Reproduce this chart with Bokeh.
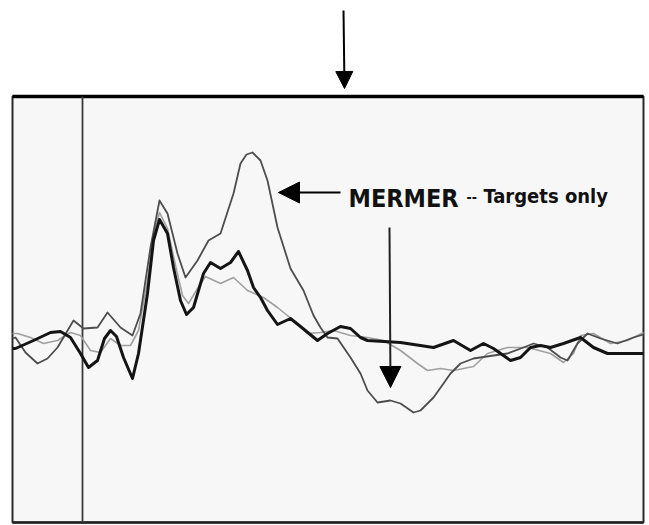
from bokeh.plotting import figure
from bokeh.models import Range1d, Arrow, NormalHead
from bokeh.core.properties import value
from bokeh.embed import file_html
from bokeh.resources import INLINE

# Time (ms, stimulus at 0) and amplitude (uV, positive up)
black_t = [-280, -268, -196, -128, -88, -48, -8, 24, 60, 88, 112, 136, 164, 200, 224, 260, 284, 308,
           340, 364, 392, 416, 444, 484, 512, 552, 592, 624, 660, 684, 712, 740, 780, 832, 872, 940,
           980, 1032, 1072, 1112, 1140, 1272, 1404, 1484, 1552, 1604, 1644, 1712, 1752, 1792, 1832,
           1872, 1924, 1992, 2044, 2100, 2180, 2244]
black_v = [-0.3, -0.3, 0.5, 1.3, 1.4, 0.8, -0.8, -2.2, -1.5, 0.7, 1.5, 0.9, -1.2, -3.3, -0.8, 5.2, 10.5, 12.6,
           11.2, 7.8, 4.5, 3.1, 3.8, 7.2, 8.3, 7.7, 8.3, 9.4, 7.5, 5.8, 4.8, 3.5, 2.1, 2.7, 1.9, 0.5,
           1.2, 1.9, 1.7, 0.8, 0.5, 0.3, -0.2, 0.5, -0.5, 0.2, -0.3, -1.5, -1.2, -0.2, 0.0,
           -0.2, 0.2, 0.8, -0.2, -0.8, -0.8, -0.8]

mermer_t = [-280, -268, -228, -180, -140, -100, -36, 4, 60, 100, 152, 200, 232, 272, 308, 340, 380, 412,
            460, 504, 552, 604, 632, 656, 680, 712, 740, 780, 832, 884, 924, 952, 980, 1020, 1072, 1112,
            1140, 1180, 1232, 1272, 1324, 1352, 1404, 1444, 1472, 1512, 1564, 1644, 1700, 1764, 1804,
            1860, 1912, 1940, 1980, 2020, 2072, 2140, 2204, 2244]
mermer_v = [0.7, 0.8, -0.7, -1.8, -1.3, -0.2, 2.5, 1.7, 1.8, 3.3, 1.8, 1.0, 3.2, 9.8, 14.5, 13.2, 9.2, 6.8,
            8.5, 10.5, 11.2, 15.2, 18.2, 19.1, 19.3, 18.5, 16.5, 11.8, 7.7, 5.5, 3.0, 1.8, 0.8, 0.7, -1.2, -2.8,
            -4.5, -5.7, -5.5, -5.8, -6.7, -6.5, -5.2, -3.8, -2.8, -1.8, -1.3, -1.0, -0.8, -0.2, 0.2,
            -0.2, -1.2, -1.5, 0.2, 1.2, 0.7, 0.2, 0.8, 1.1]

light_t = [-280, -260, -208, -156, -100, -48, -8, 32, 72, 112, 152, 192, 224, 260, 284, 308, 340, 372,
           400, 424, 460, 492, 552, 604, 660, 724, 780, 844, 900, 952, 1004, 1072, 1140, 1204, 1272,
           1340, 1380, 1432, 1484, 1564, 1620, 1700, 1780, 1872, 1924, 1964, 1992, 2044, 2112, 2180, 2244]
light_v = [1.2, 1.2, 0.8, 0.2, 0.5, 1.3, 1.0, -0.5, -0.7, 0.7, 0.0, 0.0, 1.5, 6.5, 11.0, 13.3, 11.7, 8.0,
           5.0, 4.2, 5.7, 6.9, 6.2, 6.8, 5.5, 4.8, 3.8, 2.5, 1.2, 1.3, 1.5, 1.0, 0.8, 0.5, -0.5,
           -1.8, -2.5, -2.3, -2.5, -2.1, -0.8, -0.2, -0.2, -0.8, -1.7, -0.8, 1.0, 1.2, 0.2, 0.5, 1.3]

box_t = [-280, 2244]
box_v = [-17.7, 24.9]
onset_t = 0

label_main = "MERMER"
label_dash = "--"
label_sub = "Targets only"

p = figure(width=649, height=525, output_backend="svg", toolbar_location=None,
           x_range=Range1d(-328, 2268), y_range=Range1d(-18.0, 34.5),
           min_border=0, background_fill_color="white", border_fill_color="white")
p.xaxis.visible = False
p.yaxis.visible = False
p.grid.visible = False
p.outline_line_color = None

# panel background and box
p.quad(left=box_t[0], right=box_t[1], bottom=box_v[0], top=box_v[1],
       fill_color="#f7f7f7", line_color="#2a2a2a", line_width=2)
p.line(x=box_t, y=[box_v[1], box_v[1]], line_color="black", line_width=3.5)
p.line(x=box_t, y=[box_v[0], box_v[0]], line_color="#222", line_width=2.5)
p.line(x=[onset_t, onset_t], y=box_v, line_color="#3a3a3a", line_width=1.8)

# traces
p.line(light_t, light_v, line_color="#a0a0a0", line_width=1.6, line_join="round")
p.line(mermer_t, mermer_v, line_color="#4d4d4d", line_width=1.8, line_join="round")
p.line(black_t, black_v, line_color="#141414", line_width=3.0, line_join="round")

# arrows
p.add_layout(Arrow(end=NormalHead(size=17, fill_color="black", line_color="black"),
                   x_start=1044, y_start=33.5, x_end=1048, y_end=25.7,
                   line_color="black", line_width=2))
p.add_layout(Arrow(end=NormalHead(size=21, fill_color="black", line_color="black"),
                   x_start=1032, y_start=15.3, x_end=784, y_end=15.3,
                   line_color="black", line_width=2))
p.add_layout(Arrow(end=NormalHead(size=21, fill_color="black", line_color="black"),
                   x_start=1228, y_start=11.8, x_end=1232, y_end=-4.2,
                   line_color="#222", line_width=2))

font = value("'DejaVu Sans Condensed', 'Liberation Sans', sans-serif")
p.text(x=[1064], y=[14.7], text=[label_main], text_font=font, text_font_size="25px",
       text_font_style="bold", text_color="#111", text_baseline="alphabetic")
p.text(x=[1536], y=[14.9], text=[label_dash], text_font=font, text_font_size="14px",
       text_font_style="bold", text_color="#111", text_baseline="alphabetic")
p.text(x=[1604], y=[15.0], text=[label_sub], text_font=font, text_font_size="20px",
       text_font_style="bold", text_color="#111", text_baseline="alphabetic")

open("out.html", "w").write(file_html(p, INLINE))
